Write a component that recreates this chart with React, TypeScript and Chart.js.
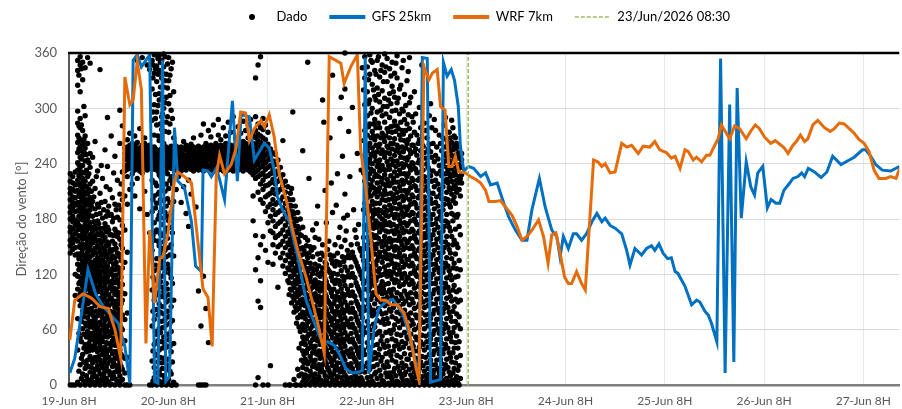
import React, { useEffect, useRef } from 'react';
import { Chart, registerables } from 'chart.js';
Chart.register(...registerables);

// x values are hours after 19-Jun 08:00
const xTickLabels = ['19-Jun 8H', '20-Jun 8H', '21-Jun 8H', '22-Jun 8H', '23-Jun 8H', '24-Jun 8H', '25-Jun 8H', '26-Jun 8H', '27-Jun 8H'];
const seriesLabels = ['Dado', 'GFS 25km', 'WRF 7km', '23/Jun/2026 08:30'];
const markerHour = 96.5;
const xMaxHour = 200.7;

const gfsHours = [0.2, 1.4, 4.6, 6.5, 8.3, 11.9, 13.5, 14.7, 15.5, 16.5, 17.5, 19.5, 20.7, 21.5, 22.6, 23.4, 24.3, 25.5, 26.3, 27.9, 29.6, 30.6, 32.0, 32.4, 33.6, 34.4, 35.6, 36.4, 37.6, 39.5, 40.7, 41.6, 43.6, 44.8, 45.6, 47.2, 48.4, 49.6, 50.4, 51.6, 53.3, 55.3, 57.3, 59.7, 61.3, 62.5, 64.1, 65.3, 66.9, 68.5, 70.1, 70.9, 71.6, 72.5, 73.7, 74.9, 76.6, 78.3, 80.6, 82.2, 83.6, 84.6, 85.4, 86.6, 87.4, 89.8, 90.5, 91.4, 92.4, 93.2, 94.1, 94.6, 95.4, 96.6, 97.8, 99.5, 100.7, 101.9, 103.5, 105.1, 106.3, 107.9, 109.5, 110.7, 111.9, 113.7, 115.1, 116.7, 117.9, 118.7, 119.5, 120.7, 121.9, 122.7, 123.9, 125.1, 126.4, 127.6, 128.8, 129.6, 130.8, 132.0, 133.6, 134.8, 135.6, 136.8, 138.4, 139.6, 140.8, 141.6, 142.6, 143.6, 144.7, 145.6, 146.5, 147.2, 148.9, 150.5, 151.7, 152.5, 153.7, 154.5, 155.3, 156.6, 157.5, 158.6, 159.7, 160.7, 161.5, 162.5, 163.7, 164.8, 165.7, 166.5, 167.7, 168.8, 169.7, 170.9, 171.8, 172.8, 174.2, 175.0, 176.2, 177.1, 177.8, 178.7, 180.2, 181.8, 183.2, 184.6, 186.6, 188.6, 189.8, 191.8, 192.6, 193.8, 195.0, 196.6, 198.6, 199.9, 200.8];
const gfsDir = [13, 29, 125, 98, 85, 67, 42, 2, 352, 358, 345, 358, 4, 2, 352, 4, 9, 279, 221, 214, 177, 129, 123, 233, 232, 226, 235, 223, 201, 308, 221, 293, 291, 244, 250, 262, 257, 233, 204, 190, 177, 139, 92, 63, 45, 47, 43, 34, 18, 13, 14, 16, 355, 12, 60, 83, 90, 93, 78, 56, 28, 9, 355, 354, 3, 6, 350, 335, 342, 330, 302, 260, 232, 237, 235, 226, 230, 217, 219, 197, 182, 168, 157, 157, 190, 224, 193, 168, 161, 139, 161, 148, 164, 164, 157, 164, 177, 186, 177, 181, 173, 170, 164, 146, 130, 148, 141, 148, 151, 146, 153, 143, 137, 138, 123, 121, 107, 87, 92, 90, 80, 76, 67, 47, 354, 13, 304, 25, 322, 181, 242, 215, 206, 230, 237, 192, 201, 197, 197, 211, 219, 224, 226, 230, 226, 235, 231, 225, 231, 248, 239, 244, 247, 255, 255, 248, 239, 233, 232, 235, 237];

const wrfHours = [0.2, 1.4, 3.4, 5.5, 7.5, 9.5, 11.1, 12.5, 13.5, 14.7, 15.5, 16.5, 17.5, 18.6, 19.5, 20.7, 21.9, 22.7, 23.9, 25.5, 26.3, 27.9, 29.6, 32.4, 33.6, 34.6, 35.6, 36.4, 37.6, 39.2, 40.4, 41.5, 42.7, 43.6, 44.8, 46.4, 47.2, 48.4, 49.6, 50.8, 52.5, 53.7, 55.3, 57.3, 58.9, 60.5, 61.7, 62.9, 64.5, 65.7, 66.5, 68.1, 69.7, 70.5, 71.7, 72.9, 74.2, 75.4, 76.6, 77.8, 79.4, 81.0, 82.2, 83.8, 84.6, 85.8, 87.0, 87.8, 89.0, 89.8, 90.9, 91.8, 92.6, 93.4, 94.2, 95.8, 97.0, 98.3, 99.5, 100.7, 101.5, 103.1, 104.3, 105.5, 107.1, 108.3, 109.5, 110.7, 111.9, 113.5, 114.7, 115.8, 116.7, 117.7, 118.7, 119.8, 120.7, 121.5, 122.7, 123.9, 124.8, 126.8, 127.8, 128.8, 129.6, 130.8, 132.0, 133.6, 134.8, 136.0, 137.6, 138.8, 140.4, 141.6, 142.8, 144.4, 145.6, 146.5, 147.7, 148.9, 149.7, 150.9, 151.7, 152.9, 154.1, 154.9, 156.1, 156.9, 157.7, 158.9, 159.7, 160.9, 162.1, 163.7, 164.9, 165.9, 166.9, 168.1, 169.6, 170.7, 172.1, 172.9, 173.8, 175.0, 175.8, 176.8, 177.8, 178.6, 179.8, 181.0, 182.6, 184.0, 185.0, 186.2, 187.4, 188.6, 189.8, 191.0, 192.2, 193.4, 194.6, 195.8, 197.4, 198.6, 199.9, 200.8];
const wrfDir = [49, 92, 99, 94, 85, 83, 60, 29, 334, 304, 309, 351, 320, 45, 168, 89, 137, 139, 164, 222, 231, 226, 219, 104, 95, 42, 227, 249, 229, 239, 257, 296, 295, 265, 278, 287, 280, 293, 269, 229, 201, 175, 146, 117, 89, 60, 34, 356, 352, 349, 327, 345, 358, 255, 215, 161, 99, 92, 92, 87, 87, 78, 60, 20, 5, 345, 331, 338, 342, 302, 298, 237, 237, 248, 231, 230, 226, 223, 219, 211, 199, 199, 200, 193, 184, 172, 157, 161, 168, 179, 161, 132, 163, 165, 143, 117, 110, 110, 123, 110, 103, 244, 242, 237, 240, 230, 231, 262, 258, 260, 251, 259, 258, 264, 255, 252, 246, 248, 235, 255, 253, 244, 247, 242, 249, 249, 260, 267, 282, 273, 267, 281, 278, 267, 276, 282, 278, 269, 262, 265, 260, 257, 251, 260, 264, 271, 264, 267, 282, 287, 279, 275, 278, 284, 283, 278, 273, 266, 262, 253, 233, 224, 224, 226, 224, 235];

// Observed direction: each row = [hour, direction values read in that time slice...]
const dado19 = [
  [0.3, 0, 143, 151, 157, 166, 171, 180, 187, 193, 201, 208, 213, 221, 229],
  [0.9, 0, 147, 154, 160, 162, 169, 177, 183, 191, 196, 198, 204, 212, 219, 226],
  [1.5, 0, 97, 120, 141, 149, 158, 164, 173, 179, 188, 195, 203, 210, 217, 231],
  [2.1, 3, 38, 72, 104, 118, 131, 142, 156, 168, 177, 189, 198, 211, 222, 233, 241, 252, 263, 271, 284, 297, 325, 341, 352],
  [2.7, 0, 22, 51, 86, 99, 112, 127, 138, 149, 161, 172, 184, 193, 204, 216, 228, 236, 247, 258, 266, 279, 289, 318, 347, 356],
  [3.3, 12, 33, 61, 80, 94, 107, 121, 134, 147, 158, 166, 179, 191, 202, 213, 224, 238, 249, 261, 276, 331, 350],
  [3.9, 0, 18, 44, 67, 83, 91, 103, 116, 128, 137, 152, 163, 174, 186, 197, 209, 221, 243, 257, 270, 292, 344],
  [4.5, 6, 27, 41, 58, 73, 88, 97, 110, 123, 133, 144, 155, 169, 181, 195, 207, 226, 244, 262, 355],
  [5.1, 0, 14, 31, 49, 63, 77, 90, 102, 114, 126, 139, 151, 163, 176, 190, 203, 218, 236, 251, 349],
  [5.7, 9, 24, 38, 53, 66, 79, 93, 105, 118, 129, 141, 154, 167, 183, 199, 221, 247],
  [6.3, 0, 17, 30, 45, 58, 71, 86, 97, 111, 122, 135, 148, 159, 172, 191, 213, 264],
  [6.9, 5, 21, 36, 50, 62, 75, 89, 101, 115, 127, 138, 151, 164, 178, 196, 232],
  [7.5, 0, 12, 27, 42, 55, 68, 82, 94, 108, 119, 132, 145, 157, 170, 186, 208, 342],
  [8.1, 8, 19, 33, 47, 60, 73, 85, 99, 112, 124, 136, 149, 162, 181, 224],
  [8.7, 0, 15, 28, 41, 57, 70, 83, 96, 109, 121, 133, 146, 160, 175, 199, 255],
  [9.3, 4, 23, 37, 52, 64, 77, 91, 104, 117, 129, 142, 155, 171, 188, 237, 290],
  [9.9, 0, 11, 26, 39, 54, 67, 80, 93, 106, 120, 134, 147, 163, 184, 212],
  [10.5, 7, 20, 34, 48, 61, 74, 88, 102, 113, 126, 140, 156, 177, 203],
  [11.1, 0, 14, 29, 43, 57, 70, 84, 98, 111, 125, 138, 153, 169, 196, 248],
  [11.7, 3, 18, 32, 46, 59, 73, 87, 100, 114, 128, 143, 161, 182, 222],
  [12.3, 0, 10, 24, 38, 51, 65, 79, 93, 107, 122, 139, 158, 179, 207, 262, 298],
  [12.9, 6, 17, 31, 45, 60, 76, 92, 109, 127, 148, 173, 201, 231, 281],
  [13.5, 0, 13, 29, 48, 71, 99, 133, 168, 205, 232, 238, 245, 251, 257],
  [14.1, 0, 30, 78, 144, 196, 226, 234, 239, 244, 248, 253, 258, 266],
  [14.7, 0, 212, 235, 240, 246, 250, 255, 260, 273],
  [15.3, 218, 229, 236, 241, 245, 251, 256, 262],
  [15.9, 205, 233, 238, 243, 249, 254, 259, 270],
  [16.5, 224, 235, 240, 244, 248, 253, 257, 263, 352],
  [17.1, 191, 232, 237, 242, 247, 252, 257, 278],
  [17.7, 230, 234, 239, 245, 250, 255, 260, 355],
  [18.3, 210, 236, 241, 246, 251, 256, 262, 268],
  [18.9, 185, 233, 238, 243, 248, 254, 259, 347],
  [19.5, 0, 165, 235, 240, 245, 250, 255, 260, 342],
  [20.1, 0, 26, 64, 103, 146, 188, 222, 236, 242, 248, 254, 287, 321, 352],
  [20.6, 8, 19, 44, 71, 92, 124, 157, 176, 205, 234, 240, 246, 252, 258, 271, 304, 338, 358],
  [21.2, 0, 33, 55, 82, 113, 137, 168, 197, 216, 237, 243, 249, 255, 282, 296, 329, 346],
  [21.8, 4, 15, 38, 61, 88, 107, 129, 151, 184, 209, 228, 235, 241, 247, 253, 265, 309, 316, 341, 357],
  [22.4, 0, 24, 47, 69, 96, 118, 143, 162, 191, 223, 238, 244, 250, 256, 277, 291, 333, 352],
  [22.9, 10, 29, 52, 77, 101, 132, 155, 181, 200, 231, 236, 242, 248, 254, 262, 300, 323, 345, 359],
  [23.5, 0, 17, 41, 65, 90, 110, 139, 170, 194, 218, 234, 240, 246, 252, 258, 285, 312, 337],
];
const dado19b = [
  [2.4, 15, 56, 93, 110, 125, 137, 150, 162, 173, 183, 195, 206, 218, 227, 239, 256, 268, 281, 336],
  [3.0, 7, 29, 47, 69, 90, 102, 116, 130, 143, 153, 170, 181, 188, 199, 209, 219, 231, 245, 254, 282, 343],
  [3.6, 4, 25, 40, 55, 74, 88, 99, 112, 124, 141, 150, 161, 171, 183, 194, 206, 216, 230, 253, 266, 302],
  [4.2, 10, 22, 36, 52, 64, 79, 94, 106, 119, 131, 140, 149, 159, 167, 178, 189, 201, 215, 233, 250],
  [4.8, 3, 20, 37, 45, 54, 68, 82, 93, 106, 118, 129, 137, 148, 158, 172, 185, 198, 212, 229, 241],
  [5.4, 5, 19, 28, 42, 56, 69, 83, 97, 109, 121, 133, 146, 158, 171, 194, 210],
  [6.0, 3, 13, 27, 41, 49, 62, 74, 90, 101, 114, 125, 132, 144, 162, 177, 204],
  [6.6, 9, 26, 40, 54, 67, 80, 93, 106, 119, 131, 143, 156, 169, 185, 226],
  [7.2, 3, 16, 31, 47, 59, 77, 91, 104, 112, 124, 136, 149, 163, 175, 193],
  [7.8, 6, 23, 38, 51, 65, 76, 89, 101, 115, 129, 141, 154, 165, 198, 238],
  [8.4, 4, 12, 24, 37, 52, 65, 79, 92, 105, 116, 128, 142, 156, 170, 190],
  [9.0, 7, 19, 33, 46, 61, 73, 87, 100, 113, 125, 139, 151, 166, 183, 215],
  [9.6, 3, 15, 30, 45, 58, 72, 86, 98, 112, 124, 137, 152, 168, 194],
  [10.2, 1, 13, 27, 43, 57, 65, 79, 94, 109, 121, 136, 145, 163, 185, 270],
  [10.8, 9, 24, 36, 51, 66, 79, 91, 105, 118, 131, 147, 162, 181, 230],
  [11.4, 6, 21, 36, 51, 64, 77, 91, 104, 119, 133, 148, 166, 190],
  [12.0, 2, 14, 28, 42, 55, 69, 82, 96, 110, 126, 142, 165, 195],
  [12.6, 5, 20, 33, 48, 62, 75, 88, 101, 117, 135, 152, 190, 218],
  [20.3, 4, 37, 80, 117, 162, 201, 239, 245, 251, 296, 333, 347],
  [20.9, 13, 32, 58, 97, 130, 166, 192, 219, 238, 244, 250, 256, 289, 315, 343],
  [21.5, 5, 25, 48, 76, 100, 125, 156, 180, 207, 232, 240, 246, 252, 270, 303, 337, 354],
  [22.1, 11, 30, 57, 79, 112, 135, 164, 188, 201, 226, 237, 243, 249, 255, 283, 323, 350],
  [22.6, 3, 18, 40, 62, 85, 106, 127, 148, 174, 211, 233, 239, 245, 251, 257, 294, 312, 338],
  [23.2, 7, 24, 44, 71, 95, 122, 146, 166, 187, 210, 236, 242, 248, 254, 275, 306, 330, 356],
  [23.8, 2, 28, 55, 80, 104, 131, 159, 183, 202, 229, 238, 244, 250, 256, 291, 322, 348],
  [24.4, 15, 42, 67, 92, 121, 141, 171, 198, 222, 236, 242, 248, 254, 283, 314, 336],
  [25.0, 0, 25, 70, 110, 165, 218, 235, 240, 246, 252, 258, 289, 350],
];
const dado20 = [
  [24.1, 6, 21, 49, 74, 98, 126, 149, 178, 213, 237, 243, 249, 255, 274, 305, 330, 355],
  [24.7, 0, 12, 36, 58, 85, 116, 152, 187, 226, 235, 241, 247, 253, 259, 298, 343],
  [25.3, 3, 45, 92, 140, 199, 234, 239, 244, 250, 256, 268, 318],
  [25.9, 0, 212, 233, 238, 244, 249, 254, 259],
  [26.5, 226, 235, 241, 246, 251, 257],
  [27.1, 198, 232, 237, 243, 248, 253, 258],
  [27.7, 215, 234, 240, 245, 250, 256, 264],
  [28.3, 186, 233, 238, 243, 249, 255, 260],
  [28.9, 172, 222, 236, 241, 246, 252, 257],
  [29.5, 207, 234, 239, 244, 250, 255, 261],
  [30.1, 232, 237, 242, 247, 253, 258, 268],
  [30.7, 193, 235, 240, 246, 251, 256],
  [31.3, 0, 102, 233, 238, 243, 248, 254, 259],
  [31.9, 0, 64, 234, 239, 245, 250, 255, 271],
  [32.5, 0, 118, 232, 237, 242, 248, 253, 258, 283],
  [33.1, 0, 83, 235, 240, 245, 251, 256, 262],
  [33.7, 46, 233, 238, 244, 249, 254, 259, 276],
  [34.3, 234, 239, 244, 249, 254, 260, 269],
  [34.9, 232, 237, 243, 248, 253, 258, 282],
  [35.5, 235, 240, 245, 250, 256, 262],
  [36.1, 233, 238, 243, 248, 254, 259, 271, 288],
  [36.7, 234, 239, 245, 250, 255, 260, 266],
  [37.3, 232, 237, 242, 247, 252, 258, 279],
  [37.9, 235, 240, 246, 251, 256, 262, 270],
  [38.5, 233, 238, 243, 249, 254, 259, 285],
  [39.1, 234, 239, 244, 249, 255, 260, 274],
  [39.7, 232, 237, 243, 248, 253, 258, 291],
  [40.3, 235, 240, 245, 251, 256, 261, 267],
  [40.9, 233, 238, 243, 248, 254, 259, 280],
  [41.5, 234, 240, 245, 250, 255, 261, 273],
  [42.1, 232, 237, 242, 247, 253, 258, 264, 286],
  [42.7, 235, 240, 245, 250, 256, 262, 276],
  [43.3, 233, 238, 244, 249, 254, 259, 268, 282],
  [43.9, 231, 236, 241, 247, 252, 257, 263, 288],
  [44.5, 178, 205, 228, 235, 240, 245, 251, 256, 262, 271],
  [45.1, 0, 125, 162, 224, 231, 238, 244, 249, 255, 261, 268, 276, 291, 333],
  [45.7, 8, 91, 138, 209, 226, 233, 240, 246, 252, 258, 265, 272, 283, 347],
  [46.3, 84, 113, 152, 201, 218, 228, 236, 243, 249, 256, 263, 270, 279, 356],
  [46.9, 0, 161, 197, 212, 222, 230, 238, 245, 253, 260, 268, 277, 289],
  [47.5, 146, 188, 204, 216, 226, 234, 241, 249, 257, 266, 282],
];
const dado21 = [
  [48.1, 0, 133, 176, 193, 206, 217, 227, 236, 244, 252, 261, 274],
  [48.7, 21, 167, 183, 196, 208, 219, 229, 238, 247, 256],
  [49.3, 131, 152, 165, 178, 190, 201, 212, 223, 233, 243, 252],
  [49.9, 143, 160, 172, 185, 196, 207, 218, 228, 239, 250],
  [50.5, 106, 150, 162, 175, 187, 198, 209, 221, 232, 244],
  [51.1, 138, 152, 164, 177, 189, 200, 212, 224, 236],
  [51.7, 129, 143, 156, 168, 180, 192, 204, 216, 228, 265],
  [52.3, 0, 121, 135, 149, 161, 173, 185, 197, 209, 221],
  [52.9, 113, 127, 141, 154, 166, 178, 190, 202, 215],
  [53.5, 0, 104, 118, 132, 146, 158, 170, 183, 195, 208],
  [54.1, 96, 110, 124, 137, 150, 162, 175, 188, 201, 296],
  [54.7, 0, 85, 99, 113, 127, 141, 154, 167, 180, 194],
  [55.3, 17, 73, 89, 103, 117, 131, 145, 158, 172, 187],
  [55.9, 0, 58, 76, 92, 106, 120, 134, 148, 163, 180],
  [56.5, 3, 19, 37, 52, 66, 79, 93, 106, 120, 134, 149, 171, 254],
  [57.1, 0, 11, 28, 44, 59, 72, 86, 99, 113, 127, 142, 160],
  [57.7, 7, 23, 39, 53, 68, 81, 95, 109, 123, 138, 157, 350],
  [58.3, 0, 15, 31, 46, 61, 75, 89, 103, 117, 132, 150],
  [58.9, 4, 20, 35, 49, 64, 78, 92, 106, 121, 139, 168],
  [59.5, 0, 12, 27, 42, 57, 71, 85, 99, 114, 131, 160],
  [60.1, 6, 18, 33, 48, 62, 76, 90, 104, 120, 142, 194],
  [60.7, 0, 14, 29, 44, 58, 73, 87, 102, 118, 136],
  [61.3, 3, 22, 37, 51, 66, 80, 95, 110, 127, 152, 309],
  [61.9, 0, 10, 26, 41, 55, 70, 84, 99, 115, 133, 211],
  [62.5, 8, 19, 34, 48, 63, 77, 92, 108, 126, 147],
  [63.1, 0, 13, 29, 44, 58, 73, 88, 104, 122, 141, 268],
  [63.7, 5, 21, 36, 51, 65, 80, 96, 113, 132, 187, 336],
  [64.3, 0, 16, 31, 46, 61, 76, 92, 110, 129, 152],
  [64.9, 9, 24, 39, 54, 69, 85, 101, 120, 143, 229],
  [65.5, 0, 14, 30, 45, 60, 75, 91, 109, 130, 171, 289],
  [66.1, 4, 19, 35, 50, 66, 82, 99, 118, 139, 248],
  [66.7, 0, 11, 27, 42, 57, 73, 90, 108, 128, 157, 207, 321, 360],
  [67.3, 6, 22, 37, 53, 69, 86, 104, 124, 146, 184],
  [67.9, 0, 15, 31, 47, 63, 79, 97, 117, 138, 226],
  [68.5, 3, 18, 34, 50, 66, 83, 101, 121, 144, 301],
  [69.1, 0, 12, 28, 44, 61, 78, 96, 116, 136, 168],
  [69.7, 7, 21, 37, 53, 70, 88, 107, 129, 153, 251],
  [70.3, 0, 14, 30, 47, 64, 82, 101, 123, 148],
  [70.9, 5, 19, 36, 54, 73, 93, 115, 140, 344],
  [71.5, 0, 14, 33, 57, 81, 104, 126, 148, 173, 197, 221, 249, 276, 304, 333, 356],
];
const dado21b = [
  [53.2, 0, 98, 111, 125, 139, 152, 164, 177, 189, 201],
  [53.8, 89, 103, 117, 130, 143, 156, 168, 181, 194, 213],
  [54.4, 6, 79, 92, 106, 120, 134, 147, 160, 173, 186],
  [55.0, 0, 67, 81, 96, 110, 124, 138, 151, 165, 178],
  [55.6, 10, 40, 63, 83, 98, 112, 126, 140, 155, 169],
  [56.2, 0, 12, 27, 45, 60, 74, 87, 100, 113, 128, 141, 162],
  [56.8, 7, 24, 33, 48, 62, 76, 90, 103, 117, 131, 146],
  [57.4, 2, 17, 35, 50, 64, 77, 91, 105, 119, 133, 151],
  [58.0, 9, 25, 40, 55, 69, 83, 97, 112, 126, 143, 224],
  [58.6, 3, 11, 27, 42, 56, 70, 84, 98, 112, 127, 146],
  [59.2, 7, 24, 38, 53, 67, 81, 96, 110, 125, 149],
  [59.8, 3, 19, 34, 49, 64, 80, 93, 108, 125, 175],
  [60.4, 9, 22, 37, 52, 67, 81, 96, 111, 129, 158],
  [61.0, 5, 18, 33, 47, 62, 77, 91, 106, 122, 143],
  [61.6, 3, 14, 30, 45, 59, 74, 88, 103, 120, 140, 285],
  [62.2, 6, 23, 38, 52, 67, 81, 96, 112, 131, 176],
  [62.8, 2, 16, 31, 46, 60, 75, 90, 106, 124, 156],
  [63.4, 9, 25, 40, 55, 69, 84, 100, 117, 136, 219],
  [64.0, 3, 12, 27, 42, 57, 72, 88, 104, 121, 140],
  [64.6, 6, 20, 35, 50, 65, 80, 96, 114, 134, 195],
  [65.2, 2, 17, 33, 49, 64, 79, 95, 113, 133, 160],
  [65.8, 8, 24, 40, 55, 71, 87, 104, 124, 150, 312],
  [66.4, 3, 14, 31, 46, 62, 78, 95, 113, 134, 181],
  [67.0, 9, 21, 36, 50, 66, 81, 98, 117, 138, 167],
  [67.6, 2, 19, 34, 49, 65, 82, 100, 119, 141, 275],
  [68.2, 8, 23, 39, 56, 72, 89, 108, 128, 152],
  [68.8, 4, 14, 30, 46, 62, 79, 97, 117, 139, 190],
  [69.4, 9, 25, 41, 57, 74, 91, 111, 133, 160],
  [70.0, 3, 17, 33, 50, 67, 85, 104, 126, 174],
  [70.6, 8, 23, 41, 59, 77, 97, 119, 145, 233],
  [71.2, 2, 20, 38, 62, 85, 110, 135, 160, 190, 230, 265, 320],
];
const dado22 = [
  [72.1, 8, 24, 46, 69, 92, 113, 131, 152, 168, 186, 203, 218, 236, 254, 271, 292, 318, 345],
  [72.7, 0, 17, 38, 60, 84, 106, 121, 139, 158, 177, 194, 212, 229, 245, 262, 283, 309, 337, 358],
  [73.3, 4, 28, 51, 75, 97, 114, 129, 147, 163, 181, 199, 222, 240, 257, 275, 300, 326, 350],
  [73.9, 0, 12, 35, 63, 88, 108, 124, 142, 160, 175, 190, 208, 226, 248, 266, 288, 313, 341],
  [74.5, 7, 22, 44, 70, 93, 117, 135, 153, 171, 186, 204, 219, 237, 253, 270, 296, 322, 352],
  [75.1, 0, 16, 39, 58, 80, 101, 126, 144, 166, 183, 197, 214, 232, 244, 261, 279, 307, 334],
  [75.7, 5, 30, 53, 77, 99, 112, 133, 150, 169, 180, 201, 224, 238, 255, 273, 292, 319, 347],
  [76.3, 0, 19, 41, 66, 86, 109, 128, 145, 161, 178, 193, 211, 228, 247, 264, 285, 311, 339, 359],
  [76.9, 9, 25, 48, 72, 95, 118, 137, 156, 174, 189, 207, 223, 242, 259, 278, 302, 329, 354],
  [77.5, 0, 13, 36, 59, 82, 103, 123, 141, 159, 176, 195, 216, 234, 251, 268, 290, 316, 343],
  [78.1, 6, 27, 50, 74, 96, 115, 132, 150, 167, 185, 202, 219, 239, 256, 274, 297, 324, 350],
  [78.7, 0, 18, 42, 65, 89, 111, 127, 146, 164, 181, 198, 213, 231, 249, 267, 286, 312, 338],
  [79.3, 4, 32, 55, 79, 100, 120, 139, 157, 172, 191, 209, 227, 243, 260, 281, 306, 333, 357],
  [79.9, 0, 15, 39, 62, 85, 107, 125, 143, 161, 179, 196, 215, 233, 252, 271, 294, 321],
  [80.5, 8, 24, 47, 71, 94, 116, 134, 152, 170, 187, 205, 222, 240, 258, 276, 299, 344],
  [81.1, 0, 11, 34, 57, 81, 102, 121, 140, 158, 176, 193, 211, 229, 246, 265, 288, 315],
  [81.7, 5, 28, 52, 76, 98, 117, 136, 154, 173, 190, 208, 226, 244, 262, 283, 330],
  [82.3, 0, 17, 40, 64, 87, 109, 129, 148, 166, 184, 201, 219, 237, 255, 278, 306, 355],
  [82.9, 7, 23, 46, 70, 93, 113, 132, 151, 169, 187, 206, 224, 241, 260, 291],
  [83.5, 0, 14, 37, 60, 83, 105, 124, 143, 162, 180, 198, 216, 235, 253, 274, 318],
  [84.1, 3, 26, 49, 73, 96, 118, 137, 155, 174, 192, 211, 230, 249, 271],
  [84.7, 0, 18, 41, 65, 88, 110, 129, 148, 167, 186, 205, 224, 244, 266, 301],
  [85.3, 9, 31, 54, 78, 100, 121, 140, 159, 178, 197, 217, 238, 261, 347],
  [85.9, 0, 15, 38, 61, 84, 106, 126, 145, 164, 184, 204, 226, 252, 284],
  [86.5, 6, 24, 47, 70, 92, 114, 134, 153, 173, 193, 215, 240, 268],
  [87.1, 0, 12, 33, 55, 77, 99, 121, 142, 163, 185, 208, 233, 261, 292],
  [87.7, 5, 22, 44, 66, 88, 110, 131, 152, 174, 197, 221, 247, 279],
  [88.3, 0, 16, 37, 59, 81, 103, 125, 146, 168, 191, 215, 242, 288],
  [88.9, 8, 27, 49, 71, 93, 115, 136, 158, 180, 204, 229, 258],
  [89.5, 0, 13, 34, 56, 78, 100, 122, 143, 165, 188, 212, 238, 271],
  [90.1, 4, 23, 45, 67, 89, 111, 133, 155, 178, 202, 227, 254],
  [90.7, 0, 17, 39, 61, 83, 105, 127, 149, 172, 196, 221, 249, 282],
  [91.3, 7, 28, 50, 72, 94, 116, 138, 161, 185, 209, 223, 236, 251, 266],
  [91.9, 0, 14, 35, 57, 79, 101, 124, 147, 171, 196, 214, 229, 243, 258, 274],
  [92.5, 5, 25, 47, 69, 91, 114, 137, 161, 186, 207, 221, 235, 249, 263, 287],
  [93.1, 0, 18, 40, 62, 85, 108, 132, 157, 184, 204, 217, 231, 245, 259, 270],
  [93.7, 9, 30, 53, 77, 101, 126, 153, 182, 209, 222, 236, 250, 262],
  [94.3, 0, 21, 47, 74, 103, 135, 172, 212, 226, 239, 252],
  [94.9, 219, 228, 236, 244, 251],
];
const dado22b = [
  [72.4, 3, 19, 41, 64, 87, 102, 117, 136, 147, 160, 176, 193, 209, 224, 241, 259, 280, 305, 331],
  [73.0, 9, 31, 54, 79, 93, 110, 126, 143, 155, 172, 189, 205, 217, 234, 250, 268, 295, 352],
  [73.6, 2, 20, 43, 66, 81, 100, 119, 133, 152, 170, 185, 196, 214, 232, 252, 270, 283, 320],
  [74.2, 14, 29, 55, 77, 98, 113, 130, 148, 162, 178, 197, 212, 228, 243, 260, 279, 309, 337],
  [74.8, 1, 33, 57, 83, 105, 123, 139, 159, 175, 190, 210, 226, 241, 258, 284, 315, 356],
  [75.4, 10, 26, 48, 68, 90, 108, 119, 139, 155, 174, 189, 207, 220, 236, 251, 268, 298, 341],
  [76.0, 4, 21, 44, 71, 93, 104, 120, 138, 156, 173, 187, 206, 218, 234, 252, 269, 302, 329],
  [76.6, 13, 34, 57, 78, 100, 123, 142, 152, 167, 184, 200, 216, 233, 252, 270, 294, 345],
  [77.2, 2, 20, 42, 67, 88, 110, 130, 148, 166, 183, 201, 220, 238, 257, 275, 309],
  [77.8, 9, 32, 56, 80, 100, 119, 136, 155, 173, 190, 208, 227, 245, 262, 280, 305, 335],
  [78.4, 2, 14, 37, 60, 84, 104, 122, 140, 157, 174, 192, 206, 224, 243, 262, 281, 318],
  [79.0, 10, 25, 48, 72, 94, 114, 131, 150, 168, 185, 202, 220, 237, 254, 275, 298, 349],
  [79.6, 3, 20, 44, 69, 91, 112, 130, 148, 166, 184, 203, 220, 239, 257, 278, 311],
  [80.2, 12, 30, 54, 77, 98, 120, 138, 156, 175, 192, 211, 229, 247, 266, 285, 325],
  [80.8, 4, 19, 41, 66, 88, 109, 128, 147, 165, 183, 200, 218, 236, 253, 272, 297, 352],
  [81.4, 14, 21, 45, 68, 91, 112, 131, 149, 167, 185, 203, 221, 239, 257, 276, 303],
  [82.0, 3, 28, 50, 73, 95, 116, 136, 156, 175, 193, 211, 229, 247, 266, 293, 340],
  [82.6, 11, 33, 55, 78, 100, 121, 140, 159, 178, 196, 214, 233, 251, 270, 312],
  [83.2, 4, 19, 42, 66, 89, 110, 129, 148, 167, 186, 204, 222, 240, 260, 285],
  [83.8, 9, 29, 52, 76, 99, 120, 139, 158, 177, 196, 215, 234, 256, 294],
  [84.4, 2, 14, 37, 62, 85, 107, 127, 146, 165, 184, 203, 222, 241, 262],
  [85.0, 7, 25, 47, 71, 94, 116, 135, 154, 173, 192, 211, 231, 254, 279],
  [85.6, 3, 21, 44, 68, 90, 112, 132, 151, 171, 191, 211, 233, 259],
  [86.2, 10, 30, 53, 76, 98, 119, 140, 160, 179, 199, 221, 246, 276],
  [86.8, 2, 18, 41, 64, 86, 107, 128, 148, 168, 189, 211, 236, 256],
  [87.4, 8, 27, 50, 72, 94, 116, 137, 158, 180, 202, 227, 253, 305],
  [88.0, 2, 12, 33, 55, 77, 99, 120, 141, 163, 185, 208, 232, 262],
  [88.6, 7, 22, 44, 66, 88, 110, 131, 153, 175, 198, 222, 249, 276],
  [89.2, 3, 18, 39, 61, 83, 105, 127, 149, 171, 194, 218, 245],
  [89.8, 9, 28, 50, 72, 94, 116, 138, 160, 183, 207, 232, 262],
  [90.4, 2, 12, 34, 56, 78, 100, 122, 144, 167, 190, 215, 240, 268],
  [91.0, 6, 22, 44, 66, 88, 110, 132, 155, 178, 202, 229, 243, 258, 290],
  [91.6, 3, 19, 40, 62, 84, 106, 129, 152, 176, 201, 219, 233, 247, 262],
  [92.2, 10, 30, 52, 74, 96, 119, 143, 167, 193, 212, 226, 240, 254, 268],
  [92.8, 2, 13, 35, 57, 80, 103, 127, 152, 178, 200, 213, 227, 241, 255, 279],
  [93.4, 6, 24, 46, 69, 93, 117, 142, 169, 197, 214, 228, 242, 256, 268],
  [94.0, 2, 16, 40, 65, 90, 118, 149, 185, 219, 233, 246, 258],
  [94.6, 7, 32, 61, 92, 125, 163, 205, 224, 237, 249],
];

const FONT = 'Lato';
const GREY = '#595959';

export default function App() {
  const ref = useRef<HTMLCanvasElement | null>(null);

  useEffect(() => {
    document.body.style.margin = '0';
    const canvas = ref.current;
    if (!canvas) return;

    const dot = document.createElement('canvas');
    dot.width = 8;
    dot.height = 8;
    const dc = dot.getContext('2d');
    if (dc) {
      dc.fillStyle = '#000';
      dc.beginPath();
      dc.arc(4, 4, 3, 0, Math.PI * 2);
      dc.fill();
    }

    const dadoPts: { x: number; y: number }[] = [];
    [...dado19, ...dado19b, ...dado20, ...dado21, ...dado21b, ...dado22, ...dado22b].forEach((col) => {
      for (let i = 1; i < col.length; i++) dadoPts.push({ x: col[0], y: col[i] });
    });
    const gfsPts = gfsHours.map((h, i) => ({ x: h, y: gfsDir[i] }));
    const wrfPts = wrfHours.map((h, i) => ({ x: h, y: wrfDir[i] }));

    const layoutPlugin = {
      id: 'layoutPlugin',
      beforeUpdate(chart: any) {
        const lg = chart.legend;
        if (lg && !lg.__patched) {
          const f = lg.fit.bind(lg);
          lg.fit = () => {
            f();
            lg.height = 53;
          };
          lg.__patched = true;
        }
      },
      afterLayout(chart: any) {
        const lg = chart.legend;
        if (lg) {
          lg.left = 212;
          lg.right = 1500;
          lg.width = 1288;
          lg.top = -11.5;
          lg.bottom = 41.5;
        }
      },
      afterDraw(chart: any) {
        const { ctx, chartArea } = chart;
        ctx.save();
        ctx.strokeStyle = '#000';
        ctx.lineWidth = 2.5;
        ctx.beginPath();
        ctx.moveTo(chartArea.left - 1, chartArea.top);
        ctx.lineTo(chartArea.right, chartArea.top);
        ctx.stroke();
        ctx.restore();
      },
    };

    const chart = new Chart(canvas, {
      type: 'scatter',
      data: {
        datasets: [
          {
            label: seriesLabels[0],
            data: dadoPts,
            pointRadius: 2.7,
            pointHoverRadius: 2.7,
            pointBackgroundColor: '#000',
            pointBorderWidth: 0,
            showLine: false,
            order: 3,
            clip: false,
          } as any,
          {
            label: seriesLabels[1],
            data: gfsPts,
            showLine: true,
            borderColor: '#0070C0',
            backgroundColor: '#0070C0',
            borderWidth: 3,
            pointRadius: 0,
            tension: 0,
            order: 2,
          },
          {
            label: seriesLabels[2],
            data: wrfPts,
            showLine: true,
            borderColor: '#E46C0A',
            backgroundColor: '#E46C0A',
            borderWidth: 3,
            pointRadius: 0,
            tension: 0,
            order: 1,
          },
          {
            label: seriesLabels[3],
            data: [
              { x: markerHour, y: 0 },
              { x: markerHour, y: 360 },
            ],
            showLine: true,
            borderColor: '#9BBB59',
            backgroundColor: '#9BBB59',
            borderWidth: 1.5,
            borderDash: [4, 2],
            pointRadius: 0,
            order: 0,
          },
        ],
      },
      options: {
        animation: false,
        responsive: false,
        devicePixelRatio: 1,
        layout: { padding: 0 },
        plugins: {
          tooltip: { enabled: false },
          legend: {
            display: true,
            position: 'top',
            align: 'start',
            labels: {
              usePointStyle: true,
              pointStyleWidth: 36,
              padding: 22,
              color: '#000',
              font: { family: FONT, size: 13 },
              generateLabels: (ch: any) =>
                ch.data.datasets.map((ds: any, i: number) => ({
                  text: ds.label,
                  datasetIndex: i,
                  hidden: false,
                  fontColor: '#000',
                  pointStyle: i === 0 ? dot : 'line',
                  fillStyle: i === 0 ? '#000' : ds.borderColor,
                  strokeStyle: i === 0 ? '#000' : ds.borderColor,
                  lineWidth: i === 0 ? 0 : i === 3 ? 1.5 : 4,
                  lineDash: i === 3 ? [4, 2] : [],
                })),
            },
          },
        },
        scales: {
          x: {
            type: 'linear',
            min: 0,
            max: xMaxHour,
            afterBuildTicks: (s: any) => {
              s.ticks = s.ticks.filter((t: any) => Math.abs(t.value % 24) < 1e-6);
            },
            afterFit: (s: any) => {
              s.height = 24;
            },
            ticks: {
              stepSize: 24,
              includeBounds: false,
              autoSkip: false,
              maxRotation: 0,
              padding: 9,
              color: GREY,
              font: { family: FONT, size: 12 },
              callback: (v: any) => xTickLabels[Math.round(Number(v) / 24)] ?? '',
            },
            grid: { color: '#e8e8e8', drawTicks: false },
            border: { color: '#7f7f7f', width: 2.5 },
          },
          y: {
            min: 0,
            max: 360,
            afterFit: (s: any) => {
              s.width = 69;
            },
            ticks: {
              stepSize: 60,
              padding: 12,
              color: GREY,
              font: { family: FONT, size: 13 },
            },
            grid: { color: '#d9d9d9', drawTicks: false },
            border: { color: '#595959', width: 2 },
            title: {
              display: true,
              text: 'Direção do vento [°]',
              color: GREY,
              font: { family: FONT, size: 13 },
              padding: { top: 14, bottom: 0 },
            },
          },
        },
      },
      plugins: [layoutPlugin],
    } as any);

    return () => chart.destroy();
  }, []);

  return (
    <div style={{ width: 902, height: 409, position: 'relative' }}>
      <canvas ref={ref} width={902} height={409} style={{ display: 'block' }} />
    </div>
  );
}
